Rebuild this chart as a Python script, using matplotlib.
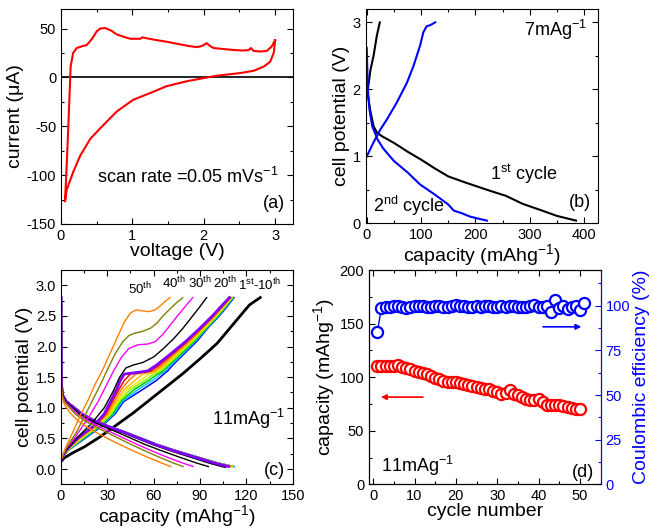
import matplotlib
matplotlib.use('Agg')
import matplotlib.pyplot as plt
from matplotlib.ticker import MultipleLocator, FormatStrFormatter

plt.rcParams['font.family'] = ['Liberation Sans', 'DejaVu Sans']
plt.rcParams['mathtext.fontset'] = 'custom'
plt.rcParams['mathtext.rm'] = 'Liberation Sans'
plt.rcParams['mathtext.default'] = 'regular'
plt.rcParams['axes.unicode_minus'] = False

# ---- (a) cyclic voltammogram ----
cv_v = [3.0, 2.98, 2.93, 2.84, 2.70, 2.51, 2.18, 1.95, 1.76, 1.48, 1.25, 1.01, 0.78, 0.55, 0.41,
        0.27, 0.17, 0.08, 0.056, 0.08, 0.103, 0.117, 0.135, 0.17, 0.22, 0.30, 0.36, 0.43, 0.50,
        0.55, 0.62, 0.70, 0.78, 0.88, 0.97, 1.06, 1.11, 1.14, 1.20, 1.35, 1.48, 1.65, 1.80, 1.90,
        1.97, 2.04, 2.09, 2.14, 2.28, 2.42, 2.55, 2.63, 2.66, 2.70, 2.80, 2.88, 2.95, 3.0]
cv_i = [38, 25, 16, 11, 6.8, 4.4, 1.7, -1.4, -4, -9, -16, -23, -35, -52, -63,
        -80, -97, -115, -127, -90, -50, -23, 11, 25, 30, 32, 33, 39, 47,
        50, 50.5, 48, 44, 41.5, 39.5, 39.5, 39.5, 41, 40, 38, 36.5, 34, 32, 31,
        32, 35, 32, 30, 29, 28, 27.5, 28, 30, 27, 26.5, 27, 31.5, 38]

# ---- (b) first two cycles at 7 mA/g ----
b1_dis_cap = [0, 2, 6, 12.5, 19, 28, 50, 75, 100, 125, 150, 181, 225, 256, 287, 319, 350, 385]
b1_dis_v = [2.0, 1.92, 1.7, 1.45, 1.35, 1.3, 1.2, 1.07, 0.95, 0.82, 0.7, 0.61, 0.49, 0.41, 0.29, 0.2, 0.11, 0.04]
b1_chg_cap = [2, 7, 12.5, 18.5, 24]
b1_chg_v = [2.0, 2.3, 2.5, 2.8, 3.0]
b2_dis_cap = [0, 1, 2, 5, 10, 20, 30, 50, 75, 98, 125, 150, 160, 175, 190, 205, 221]
b2_dis_v = [2.62, 2.3, 2.0, 1.7, 1.45, 1.25, 1.12, 0.93, 0.76, 0.58, 0.43, 0.28, 0.19, 0.15, 0.1, 0.07, 0.04]
b2_chg_cap = [0, 12, 25, 37, 55, 74, 86, 98, 104, 110, 117, 126]
b2_chg_v = [1.0, 1.2, 1.4, 1.55, 1.8, 2.1, 2.35, 2.65, 2.85, 2.94, 2.96, 3.0]

# ---- (c) charge/discharge profiles at 11 mA/g ----
# cycles 2-10 share voltage levels, capacities read per curve
chg_v = [0.15, 0.3, 0.5, 0.7, 0.9, 1.1, 1.3, 1.45, 1.55, 1.6, 1.7, 1.9, 2.1, 2.3, 2.5, 2.65, 2.8]
dis_v = [2.8, 1.6, 1.35, 1.2, 1.1, 1.0, 0.9, 0.8, 0.7, 0.6, 0.5, 0.4, 0.3, 0.2, 0.1, 0.04]
cluster_colors = ['#0000ff', '#00c8ff', '#00c000', '#80ff00', '#e8e800',
                  '#ffc000', '#ff8000', '#ff0000', '#8000ff']
cluster_chg_cap = [
    [0, 4.5, 15.5, 26.5, 35, 40.5, 53, 62, 66.5, 69, 72.5, 80.5, 88.5, 95, 102.5, 107.5, 112],
    [0, 4.3, 14.8, 25.8, 34.2, 39.5, 50, 59.5, 64.5, 67.5, 71.2, 79.5, 87.5, 94.5, 102, 107, 111.5],
    [0, 4.1, 14.2, 25, 33.4, 38.5, 47.5, 57, 62.5, 66, 70, 78.5, 86.8, 94, 101.5, 106.5, 111.2],
    [0, 4, 13.6, 24.3, 32.6, 37.6, 45, 54.5, 60, 64.5, 69, 77.5, 86, 93.5, 101, 106, 110.9],
    [0, 3.8, 13, 23.6, 31.8, 36.6, 43, 51.5, 57, 63, 68, 76.5, 85.2, 92.8, 100.5, 105.6, 110.6],
    [0, 3.6, 12.4, 22.9, 30.9, 35.5, 41, 48, 53, 61.5, 67, 75.5, 84.5, 92.2, 100, 105.2, 110.3],
    [0, 3.4, 11.8, 22.3, 29.9, 34.3, 39, 44, 48.5, 60, 65.5, 74.3, 83.5, 91.5, 99.3, 104.7, 110],
    [0, 3.2, 11.2, 21.6, 29, 33.2, 37.5, 41, 45, 58, 63.8, 73.2, 82.5, 90.8, 98.7, 104.1, 109.6],
    [0, 3, 10.5, 21, 28, 32, 36, 38.5, 41, 56, 62, 72, 81.5, 90, 98, 103.5, 109],
]
cluster_dis_cap = [
    [0, 0.1, 0.4, 1.3, 3.8, 9, 14, 21.5, 31, 42, 52.5, 62.5, 74.5, 88, 101.5, 112],
    [0, 0.1, 0.4, 1.3, 3.8, 9, 14, 21.4, 31, 42, 52.4, 62.4, 74.4, 87.8, 101.2, 111.8],
    [0, 0.1, 0.4, 1.3, 3.7, 8.9, 13.9, 21.3, 30.8, 41.8, 52.2, 62.2, 74.2, 87.6, 101, 111.5],
    [0, 0.1, 0.4, 1.3, 3.7, 8.8, 13.8, 21.2, 30.7, 41.7, 52, 62, 74, 87.4, 100.7, 111.5],
    [0, 0.1, 0.4, 1.2, 3.6, 8.8, 13.8, 21.1, 30.6, 41.6, 51.8, 61.8, 73.8, 87.2, 100.4, 111],
    [0, 0.1, 0.4, 1.2, 3.6, 8.7, 13.7, 21, 30.5, 41.5, 51.6, 61.6, 73.6, 86.9, 100, 110.5],
    [0, 0.1, 0.4, 1.2, 3.6, 8.6, 13.6, 20.8, 30.3, 41.3, 51.4, 61.4, 73.4, 86.6, 99.7, 110],
    [0, 0.1, 0.4, 1.2, 3.5, 8.6, 13.5, 20.6, 30.1, 41.1, 51.2, 61.2, 73.2, 86.3, 99.3, 109],
    [0, 0.1, 0.4, 1.2, 3.5, 8.5, 13.5, 20.5, 30, 41, 51, 61, 73, 86, 99, 108.5],
]
c1_chg_cap = [0, 2, 8, 15, 25, 36, 47, 58, 68, 79, 90, 101, 112, 122, 129]
c1_chg_v = [0.12, 0.18, 0.27, 0.36, 0.52, 0.72, 0.92, 1.14, 1.34, 1.56, 1.8, 2.05, 2.38, 2.68, 2.8]
c1_dis_cap = [0, 0.1, 0.4, 1.1, 3.2, 8, 13, 20, 29.5, 40.5, 50.5, 60.5, 72, 84.5, 97, 106]
c20_chg_cap = [0, 3, 10, 20, 28, 34, 38, 42, 47, 53, 60, 66, 73, 79, 84, 89, 94.3]
c20_chg_v = [0.15, 0.3, 0.5, 0.75, 1.0, 1.28, 1.5, 1.65, 1.7, 1.74, 1.83, 1.96, 2.13, 2.3, 2.46, 2.62, 2.8]
c20_dis_cap = [0, 0.1, 0.4, 1.1, 3.2, 7.5, 12, 18.5, 27, 36.5, 45.5, 54.5, 65, 76, 87.5, 95.4]
c30_chg_cap = [0, 3, 10, 18, 24, 29, 34, 39, 44, 50, 56, 61, 66, 71, 76, 81, 85.3]
c30_chg_v = [0.15, 0.32, 0.55, 0.85, 1.1, 1.35, 1.6, 1.82, 1.97, 2.03, 2.04, 2.08, 2.2, 2.36, 2.52, 2.67, 2.8]
c30_dis_cap = [0, 0.1, 0.3, 0.9, 2.6, 6.5, 10.5, 16.5, 24, 32.5, 41, 49.5, 58.5, 68, 78.5, 85.5]
c40_chg_cap = [0, 3, 10, 16, 21, 25, 30, 35, 40, 44, 48, 53, 58, 62, 66, 70, 75, 78.8]
c40_chg_v = [0.15, 0.33, 0.6, 0.9, 1.15, 1.35, 1.62, 1.88, 2.08, 2.18, 2.22, 2.25, 2.3, 2.38, 2.5, 2.6, 2.72, 2.8]
c40_dis_cap = [0, 0.1, 0.3, 0.8, 2.2, 5.5, 9.2, 14.5, 21.5, 29.5, 37.5, 45.5, 54, 63, 72.5, 79]
c50_chg_cap = [0, 3, 8, 13, 18, 22, 27, 32, 37, 41, 45, 49, 53, 57, 61, 65, 68, 70.6]
c50_chg_v = [0.15, 0.35, 0.62, 0.9, 1.15, 1.38, 1.62, 1.9, 2.18, 2.4, 2.55, 2.6, 2.58, 2.57, 2.6, 2.68, 2.75, 2.8]
c50_dis_cap = [0, 0.1, 0.2, 0.5, 1.4, 3.5, 6.5, 10.5, 16, 22.5, 30, 38, 46.5, 55.5, 65, 71]

# ---- (d) cycling ----
cap_cycles = list(range(1, 51))
capacity = [110, 110.5, 110.5, 110.5, 110.5, 111, 109.5, 108.6, 107.5, 106,
            105, 104, 102.5, 101, 99.5, 98, 96.5, 95.5, 95.5, 95.5,
            94.8, 94, 92.7, 91.4, 90.7, 90, 89.3, 88.6, 87.3, 86,
            84.5, 85.5, 87.7, 84.5, 83, 81.4, 80, 78.3, 78.3, 80,
            76.8, 74.3, 73.6, 73.6, 74.3, 73, 72, 71.5, 70.5, 70.5]
ce_cycles = list(range(1, 52))
ce = [85.4, 98.5, 99.2, 99.5, 99.6, 99.6, 99.3, 98.9, 99.4, 99.6,
      100.1, 99.7, 99.2, 99.3, 99.7, 99.8, 99.5, 99.2, 99.6, 100.2,
      99.9, 99.6, 99.3, 99.5, 99.8, 99.3, 99.7, 99.9, 99.1, 99.5,
      99.6, 99.4, 100.1, 99.7, 99.3, 99.5, 99.2, 99.6, 100.3, 99.5,
      99.3, 99.6, 96.7, 103.0, 98.5, 100.1, 98.2, 99.1, 99.7, 97.6, 101.3]

TICK = 10.5
LABEL = 14
NOTE = 13


def style(ax, xmaj, xmin, ymaj, ymin, right=True):
    ax.xaxis.set_major_locator(MultipleLocator(xmaj))
    ax.xaxis.set_minor_locator(MultipleLocator(xmin))
    ax.yaxis.set_major_locator(MultipleLocator(ymaj))
    ax.yaxis.set_minor_locator(MultipleLocator(ymin))
    ax.tick_params(which='both', direction='in', top=True, right=right, labelsize=TICK)
    ax.tick_params(which='major', length=4, width=0.8)
    ax.tick_params(which='minor', length=2.5, width=0.8)


fig = plt.figure(figsize=(6.53, 5.31), dpi=100)

# (a)
ax = fig.add_axes([0.0934, 0.5782, 0.3553, 0.4049])
ax.axhline(0, color='black', lw=1.2)
ax.plot(cv_v, cv_i, color='#ff0000', lw=1.5)
ax.set_xlim(0, 3.25)
ax.set_ylim(-150, 70)
style(ax, 1, 0.5, 50, 25)
ax.set_xlabel('voltage (V)', fontsize=LABEL, labelpad=0)
ax.set_ylabel('current (μA)', fontsize=LABEL, labelpad=2)
ax.text(0.5, -108, 'scan rate =0.05 mVs$^{-1}$', fontsize=NOTE)
ax.text(3.14, -134, '(a)', fontsize=NOTE, ha='right')

# (b)
ax = fig.add_axes([0.56, 0.5795, 0.3562, 0.4036])
ax.plot(b1_dis_cap, b1_dis_v, color='black', lw=1.5)
ax.plot(b1_chg_cap, b1_chg_v, color='black', lw=1.5)
ax.plot(b2_dis_cap, b2_dis_v, color='#0000ff', lw=1.5)
ax.plot(b2_chg_cap, b2_chg_v, color='#0000ff', lw=1.5)
ax.set_xlim(-2, 426)
ax.set_ylim(0, 3.2)
style(ax, 100, 50, 1, 0.5)
ax.set_xlabel('capacity (mAhg$^{-1}$)', fontsize=LABEL, labelpad=0)
ax.set_ylabel('cell potential (V)', fontsize=LABEL, labelpad=2)
ax.text(289, 2.79, '7mAg$^{-1}$', fontsize=NOTE)
ax.text(227, 0.65, '1$^{st}$ cycle', fontsize=NOTE)
ax.text(11, 0.17, '2$^{nd}$ cycle', fontsize=NOTE)
ax.text(412, 0.25, '(b)', fontsize=NOTE, ha='right')

# (c)
ax = fig.add_axes([0.0934, 0.0879, 0.3548, 0.4036])
ax.plot(c1_chg_cap, c1_chg_v, color='black', lw=2)
ax.plot(c1_dis_cap, dis_v, color='black', lw=2)
for col, cc, dc in zip(cluster_colors, cluster_chg_cap, cluster_dis_cap):
    w = 2 if col == '#8000ff' else 1.1
    ax.plot(cc, chg_v, color=col, lw=w)
    ax.plot(dc, dis_v, color=col, lw=w)
for col, cc, cv, dc in [('black', c20_chg_cap, c20_chg_v, c20_dis_cap),
                        ('#ff00ff', c30_chg_cap, c30_chg_v, c30_dis_cap),
                        ('#808000', c40_chg_cap, c40_chg_v, c40_dis_cap),
                        ('#ff8000', c50_chg_cap, c50_chg_v, c50_dis_cap)]:
    ax.plot(cc, cv, color=col, lw=1)
    ax.plot(dc, dis_v, color=col, lw=1)
ax.set_xlim(0, 150)
ax.set_ylim(-0.25, 3.25)
style(ax, 30, 15, 0.5, 0.25)
ax.yaxis.set_major_formatter(FormatStrFormatter('%.1f'))
ax.set_xlabel('capacity (mAhg$^{-1}$)', fontsize=LABEL, labelpad=0)
ax.set_ylabel('cell potential (V)', fontsize=LABEL, labelpad=2)
ax.text(43.6, 2.85, '50$^{th}$', fontsize=9.5)
ax.text(65.6, 2.95, '40$^{th}$', fontsize=9.5)
ax.text(82.5, 2.95, '30$^{th}$', fontsize=9.5)
ax.text(98.6, 2.95, '20$^{th}$', fontsize=9.5)
ax.text(114.8, 2.92, '1$^{st}$-10$^{th}$', fontsize=9.5)
ax.text(97.6, 0.72, '11mAg$^{-1}$', fontsize=NOTE)
ax.text(145, -0.1, '(c)', fontsize=NOTE, ha='right')

# (d)
ax = fig.add_axes([0.5651, 0.0879, 0.3548, 0.4036])
ax.plot(cap_cycles, capacity, color='#ff0000', lw=1, marker='o', ms=8,
        mfc='white', mec='#ff0000', mew=1.6)
ax.set_xlim(-1, 55)
ax.set_ylim(0, 200)
style(ax, 10, 5, 50, 25, right=False)
ax.set_xlabel('cycle number', fontsize=LABEL, labelpad=0)
ax.set_ylabel('capacity (mAhg$^{-1}$)', fontsize=LABEL, labelpad=2)
ax.annotate('', xy=(1.2, 81.4), xytext=(12.7, 81.4),
            arrowprops=dict(arrowstyle='-|>', color='#ff0000', lw=1.2, mutation_scale=8))
ax.text(1.9, 11.9, '11mAg$^{-1}$', fontsize=NOTE)
ax.text(53.5, 6.5, '(d)', fontsize=NOTE, ha='right')

ax2 = ax.twinx()
ax2.plot(ce_cycles, ce, color='#0000ff', lw=1, marker='o', ms=8,
         mfc='white', mec='#0000ff', mew=1.6)
ax2.set_ylim(0, 120)
ax2.yaxis.set_major_locator(MultipleLocator(25))
ax2.yaxis.set_minor_locator(MultipleLocator(12.5))
ax2.tick_params(which='both', direction='in', colors='#0000ff', labelsize=TICK)
ax2.tick_params(which='major', length=4, width=0.8)
ax2.tick_params(which='minor', length=2.5, width=0.8)
ax2.spines['right'].set_color('#0000ff')
ax2.set_ylabel('Coulombic efficiency (%)', fontsize=LABEL, color='#0000ff', labelpad=2)
ax2.annotate('', xy=(51, 88.2), xytext=(40.4, 88.2),
             arrowprops=dict(arrowstyle='-|>', color='#0000ff', lw=1.2, mutation_scale=8))

fig.savefig('out.png', dpi=100)
